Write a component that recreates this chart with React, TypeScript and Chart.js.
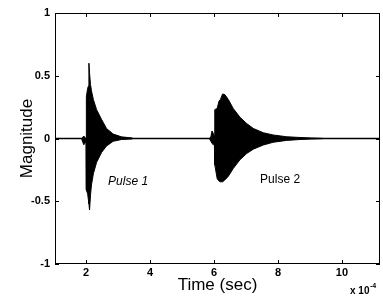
import React, { useEffect, useRef } from 'react';
import { Chart, registerables } from 'chart.js';

Chart.register(...registerables);

const FONT = "'Liberation Sans', Arial, Helvetica, sans-serif";

const X_MIN = 1.03;
const X_MAX = 11.19;
const Y_MIN = -1;
const Y_MAX = 1;

const xTicks = [2, 4, 6, 8, 10];
const xTickLabels = ['2', '4', '6', '8', '10'];
const yTicks = [-1, -0.5, 0, 0.5, 1];
const yTickLabels = ['-1', '-0.5', '0', '0.5', '1'];

const xTitle = 'Time (sec)';
const yTitle = 'Magnitude';
const xExponentBase = 'x 10';
const xExponentPower = '-4';

// baseline (zero signal between pulses)
const baselineT = [1.03, 11.19];
const baselineV = [0, 0];

// Pulse 1 envelope (x in units of 1e-4 s)
const pulse1T = [1.86, 1.9, 1.93, 1.96, 1.99, 2.0, 2.01, 2.05, 2.08, 2.09, 2.11, 2.14, 2.17, 2.23, 2.33, 2.49, 2.64, 2.85, 3.11, 3.45];
const pulse1Upper = [0, 0.01, 0.02, 0.01, 0.0, 0.0, 0.33, 0.4, 0.42, 0.6, 0.52, 0.43, 0.38, 0.31, 0.23, 0.15, 0.08, 0.035, 0.013, 0.004];
const pulse1Lower = [0, -0.03, -0.05, -0.04, -0.02, 0.0, -0.41, -0.44, -0.5, -0.52, -0.57, -0.45, -0.37, -0.28, -0.19, -0.11, -0.06, -0.022, -0.008, -0.003];

// Pulse 2 envelope
const pulse2T = [5.85, 5.9, 5.94, 5.98, 6.01, 6.02, 6.03, 6.1, 6.16, 6.2, 6.27, 6.34, 6.45, 6.6, 6.81, 7.02, 7.23, 7.54, 7.85, 8.27, 8.69, 9.05, 9.4];
const pulse2Upper = [0, 0.01, 0.06, 0.04, 0.02, 0, 0.23, 0.24, 0.3, 0.31, 0.355, 0.35, 0.31, 0.24, 0.17, 0.12, 0.08, 0.046, 0.028, 0.014, 0.008, 0.004, 0.001];
const pulse2Lower = [0, -0.02, -0.04, -0.05, -0.02, 0, -0.21, -0.32, -0.34, -0.345, -0.345, -0.33, -0.3, -0.24, -0.17, -0.12, -0.085, -0.052, -0.03, -0.015, -0.008, -0.004, -0.001];

// In-plot annotations
const pulseLabels = ['Pulse 1', 'Pulse 2'];
const pulseLabelX = [2.69, 7.44];
const pulseLabelY = [-0.34, -0.33];
const pulseLabelItalic = [true, false];

const toPoints = (xs: number[], ys: number[]) => xs.map((x, i) => ({ x, y: ys[i] }));

const framePlugin = {
  id: 'frame',
  afterDatasetsDraw(chart: any) {
    const { ctx, chartArea: a, scales } = chart;
    ctx.save();
    ctx.strokeStyle = '#000';
    ctx.lineWidth = 1;
    ctx.strokeRect(a.left + 0.5, a.top + 0.5, a.right - a.left - 1, a.bottom - a.top - 1);
    ctx.beginPath();
    const tl = 4;
    for (const v of xTicks) {
      const px = Math.round(scales.x.getPixelForValue(v)) + 0.5;
      ctx.moveTo(px, a.bottom);
      ctx.lineTo(px, a.bottom - tl);
      ctx.moveTo(px, a.top);
      ctx.lineTo(px, a.top + tl);
    }
    for (const v of yTicks) {
      const py = Math.round(scales.y.getPixelForValue(v)) + 0.5;
      ctx.moveTo(a.left, py);
      ctx.lineTo(a.left + tl, py);
      ctx.moveTo(a.right, py);
      ctx.lineTo(a.right - tl, py);
    }
    ctx.stroke();

    // pulse labels
    ctx.fillStyle = '#000';
    ctx.textAlign = 'left';
    ctx.textBaseline = 'middle';
    pulseLabels.forEach((t, i) => {
      ctx.font = `${pulseLabelItalic[i] ? 'italic ' : ''}12px ${FONT}`;
      ctx.fillText(t, scales.x.getPixelForValue(pulseLabelX[i]), scales.y.getPixelForValue(pulseLabelY[i]));
    });

    // exponent label
    ctx.font = `bold 10px ${FONT}`;
    ctx.textBaseline = 'middle';
    ctx.fillText(xExponentBase, 350, 291.5);
    const w = ctx.measureText(xExponentBase).width;
    ctx.font = `bold 7px ${FONT}`;
    ctx.fillText(xExponentPower, 350 + w + 0.5, 286.5);
    ctx.restore();
  },
};

export default function App() {
  const ref = useRef<HTMLCanvasElement | null>(null);

  useEffect(() => {
    if (!ref.current) return;
    const common = { pointRadius: 0, borderColor: '#000', tension: 0, borderWidth: 1 };
    const chart = new Chart(ref.current, {
      type: 'line',
      data: {
        datasets: [
          { ...common, data: toPoints(baselineT, baselineV), borderWidth: 1.5, fill: false },
          { ...common, data: toPoints(pulse1T, pulse1Upper), fill: '+1', backgroundColor: '#000' },
          { ...common, data: toPoints(pulse1T, pulse1Lower), fill: false },
          { ...common, data: toPoints(pulse2T, pulse2Upper), fill: '+1', backgroundColor: '#000' },
          { ...common, data: toPoints(pulse2T, pulse2Lower), fill: false },
        ],
      },
      options: {
        animation: false,
        responsive: false,
        devicePixelRatio: 1,
        parsing: false as any,
        layout: { padding: { left: 0, right: 3, top: 13, bottom: 0 } },
        plugins: { legend: { display: false }, tooltip: { enabled: false } },
        scales: {
          x: {
            type: 'linear',
            min: X_MIN,
            max: X_MAX,
            afterBuildTicks: (s: any) => {
              s.ticks = xTicks.map((v) => ({ value: v }));
            },
            afterFit: (s: any) => {
              s.height = 33;
            },
            grid: { display: false, drawTicks: false },
            border: { display: false },
            ticks: {
              color: '#000',
              font: { family: FONT, size: 11, weight: 'bold' },
              padding: 2,
              maxRotation: 0,
              autoSkip: false,
              callback: (v: any) => {
                const i = xTicks.indexOf(Number(v));
                return i >= 0 ? xTickLabels[i] : '';
              },
            },
            title: {
              display: true,
              text: xTitle,
              color: '#000',
              font: { family: FONT, size: 17 },
              padding: { top: 0, bottom: 1 },
            },
          },
          y: {
            type: 'linear',
            min: Y_MIN,
            max: Y_MAX,
            afterBuildTicks: (s: any) => {
              s.ticks = yTicks.map((v) => ({ value: v }));
            },
            afterFit: (s: any) => {
              s.width = 55;
            },
            grid: { display: false, drawTicks: false },
            border: { display: false },
            ticks: {
              color: '#000',
              font: { family: FONT, size: 11, weight: 'bold' },
              padding: 5,
              autoSkip: false,
              callback: (v: any) => {
                const i = yTicks.indexOf(Number(v));
                return i >= 0 ? yTickLabels[i] : '';
              },
            },
            title: {
              display: true,
              text: yTitle,
              color: '#000',
              font: { family: FONT, size: 17 },
              padding: { top: 17, bottom: 0 },
            },
          },
        },
      },
      plugins: [framePlugin],
    });
    return () => chart.destroy();
  }, []);

  return (
    <div style={{ position: 'absolute', left: 0, top: 0, width: 383, height: 297, background: '#fff' }}>
      <canvas ref={ref} width={383} height={297} style={{ width: 383, height: 297, display: 'block' }} />
    </div>
  );
}
